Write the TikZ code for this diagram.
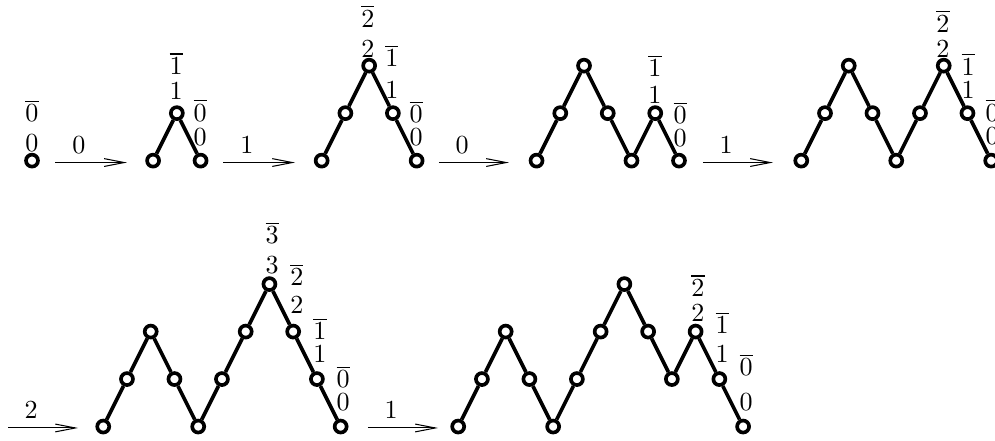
\documentclass[tikz,border=0pt]{standalone}
\usepackage{amsmath}
\usetikzlibrary{arrows.meta}
\tikzset{
  site/.style={circle,draw,fill=white,line width=1.4pt,inner sep=0pt,minimum size=4.6pt},
  walk/.style={line width=1.4pt},
  move/.style={-{Straight Barb[length=7.7pt,width=3pt]}},
  lab/.style={anchor=base,inner sep=0pt},
}

\begin{document}
\begin{tikzpicture}[x=0.32cm,y=0.64cm]
  \useasboundingbox (-1.348,-0.284) rectangle (40.56,8.983);
  % --- top row: the walks ---
  \node[site] (a0) at (0,5.6) {};
  \foreach \h [count=\i from 0] in {0,1,0}
    \node[site] (b\i) at (5.1+\i,5.6+\h) {};
  \foreach \i [remember=\i as \j (initially 0)] in {1,2}
    \draw[walk] (b\j) -- (b\i);
  \foreach \h [count=\i from 0] in {0,1,2,1,0}
    \node[site] (c\i) at (12.2+\i,5.6+\h) {};
  \foreach \i [remember=\i as \j (initially 0)] in {1,...,4}
    \draw[walk] (c\j) -- (c\i);
  \foreach \h [count=\i from 0] in {0,1,2,1,0,1,0}
    \node[site] (d\i) at (21.25+\i,5.6+\h) {};
  \foreach \i [remember=\i as \j (initially 0)] in {1,...,6}
    \draw[walk] (d\j) -- (d\i);
  \foreach \h [count=\i from 0] in {0,1,2,1,0,1,2,1,0}
    \node[site] (e\i) at (32.4+\i,5.6+\h) {};
  \foreach \i [remember=\i as \j (initially 0)] in {1,...,8}
    \draw[walk] (e\j) -- (e\i);
  % --- bottom row: the walks ---
  \foreach \h [count=\i from 0] in {0,1,2,1,0,1,2,3,2,1,0}
    \node[site] (f\i) at (3.0+\i,\h) {};
  \foreach \i [remember=\i as \j (initially 0)] in {1,...,10}
    \draw[walk] (f\j) -- (f\i);
  \foreach \h [count=\i from 0] in {0,1,2,1,0,1,2,3,2,1,2,1,0}
    \node[site] (g\i) at (17.95+\i,\h) {};
  \foreach \i [remember=\i as \j (initially 0)] in {1,...,12}
    \draw[walk] (g\j) -- (g\i);
  % --- heights on the last slope ---
  \node[lab] (a0h) at (0,5.79) {$0$};
  \node[lab] (a0b) at (0,6.415) {$\overline{0}$};
  \node[lab] (b1h) at (6.07,6.89) {$1$};
  \node[lab] (b1b) at (6.07,7.415) {$\overline{1}$};
  \node[lab] (b2h) at (7.08,5.92) {$0$};
  \node[lab] (b2b) at (7.08,6.43) {$\overline{0}$};
  \node[lab] (c2h) at (14.15,7.77) {$2$};
  \node[lab] (c2b) at (14.15,8.41) {$\overline{2}$};
  \node[lab] (c3h) at (15.16,6.91) {$1$};
  \node[lab] (c3b) at (15.16,7.58) {$\overline{1}$};
  \node[lab] (c4h) at (16.18,5.92) {$0$};
  \node[lab] (c4b) at (16.18,6.40) {$\overline{0}$};
  \node[lab] (d5h) at (26.24,6.81) {$1$};
  \node[lab] (d5b) at (26.24,7.37) {$\overline{1}$};
  \node[lab] (d6h) at (27.30,5.90) {$0$};
  \node[lab] (d6b) at (27.30,6.38) {$\overline{0}$};
  \node[lab] (e6h) at (38.37,7.77) {$2$};
  \node[lab] (e6b) at (38.37,8.30) {$\overline{2}$};
  \node[lab] (e7h) at (39.43,6.91) {$1$};
  \node[lab] (e7b) at (39.43,7.40) {$\overline{1}$};
  \node[lab] (e8h) at (40.44,5.94) {$0$};
  \node[lab] (e8b) at (40.44,6.43) {$\overline{0}$};
  \node[lab] (f7h) at (10.11,3.22) {$3$};
  \node[lab] (f7b) at (10.11,3.85) {$\overline{3}$};
  \node[lab] (f8h) at (11.16,2.38) {$2$};
  \node[lab] (f8b) at (11.16,2.97) {$\overline{2}$};
  \node[lab] (f9h) at (12.13,1.35) {$1$};
  \node[lab] (f9b) at (12.13,1.83) {$\overline{1}$};
  \node[lab] (f10h) at (13.10,0.34) {$0$};
  \node[lab] (f10b) at (13.10,0.82) {$\overline{0}$};
  \node[lab] (g10h) at (28.05,2.21) {$2$};
  \node[lab] (g10b) at (28.05,2.74) {$\overline{2}$};
  \node[lab] (g11h) at (29.07,1.35) {$1$};
  \node[lab] (g11b) at (29.07,1.96) {$\overline{1}$};
  \node[lab] (g12h) at (30.08,0.34) {$0$};
  \node[lab] (g12b) at (30.08,1.07) {$\overline{0}$};
  % --- steps between the walks ---
  \coordinate (t1s) at (0.97,5.56);   \coordinate (t1e) at (4.0,5.56);
  \coordinate (t2s) at (8.05,5.56);   \coordinate (t2e) at (11.08,5.56);
  \coordinate (t3s) at (17.14,5.56);  \coordinate (t3e) at (20.09,5.56);
  \coordinate (t4s) at (28.26,5.56);  \coordinate (t4e) at (31.21,5.56);
  \coordinate (u1s) at (-1.01,-0.03); \coordinate (u1e) at (1.94,-0.03);
  \coordinate (u2s) at (14.15,-0.03); \coordinate (u2e) at (17.1,-0.03);
  \draw[move] (t1s) -- node[pos=0.33,above] (t1l) {$0$} (t1e);
  \draw[move] (t2s) -- node[pos=0.33,above] (t2l) {$1$} (t2e);
  \draw[move] (t3s) -- node[pos=0.33,above] (t3l) {$0$} (t3e);
  \draw[move] (t4s) -- node[pos=0.33,above] (t4l) {$1$} (t4e);
  \draw[move] (u1s) -- node[pos=0.33,above] (u1l) {$2$} (u1e);
  \draw[move] (u2s) -- node[pos=0.33,above] (u2l) {$1$} (u2e);
\end{tikzpicture}
\end{document}
